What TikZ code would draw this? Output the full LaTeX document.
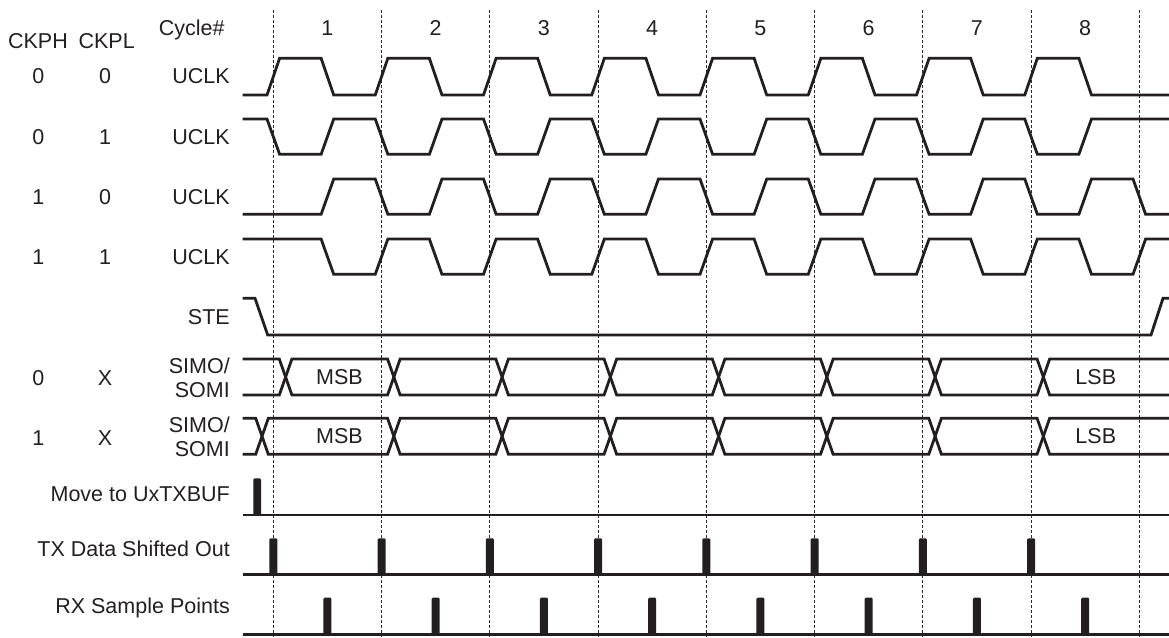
\documentclass[tikz,border=0pt]{standalone}
\usepackage{fontspec}
\setmainfont{Liberation Sans}
\usepackage{tikz}
\usetikzlibrary{calc}
\definecolor{spiink}{RGB}{35,31,32}
\definecolor{spigrid}{RGB}{45,41,42}
% timing grid: first cycle line, cycle length, edge half width, bus crossing half width
\newcommand{\gridx}{273.3}
\newcommand{\cyc}{108.25}
\newcommand{\slew}{6.3}
\newcommand{\xhalf}{6.3}
\tikzset{
  %% ---- text ----
  lbl/.style    = {font=\fontsize{21.5}{24}\selectfont, text=spiink, inner sep=0pt},
  siglbl/.style = {lbl, anchor=base east},
  numlbl/.style = {lbl, anchor=base},
  %% ---- lines ----
  wave/.style     = {draw=spiink, line width=2.8pt},
  gridline/.style = {draw=spigrid, line width=0.9pt, dash pattern=on 3pt off 2pt},
  pulse/.style    = {fill=spiink, rounded corners=1.2pt},
}
% clock row: #1 phase offset (0 or 0.5), #2 idle level, #3 active level
\newcommand{\uclkrow}[3]{%
  \draw[wave] (242.7,#2) \foreach \k in {0,...,7}{
    -- ({\gridx+(\k+#1)*\cyc-\slew},#2) -- ({\gridx+(\k+#1)*\cyc+\slew},#3)
    -- ({\gridx+(\k+#1+0.5)*\cyc-\slew},#3) -- ({\gridx+(\k+#1+0.5)*\cyc+\slew},#2)}
    -- (1169,#2);}
% one rail of a data bus: #1 start level, #2 other level, #3 first crossing
\newcommand{\busline}[3]{%
  \draw[wave] (242.7,#1) \foreach \k in {0,...,7}{
    -- ({\gridx+\k*\cyc+12.3+(\k==0)*(#3-\gridx-12.3)-\xhalf},{#1+(#2-#1)*mod(\k,2)})
    -- ({\gridx+\k*\cyc+12.3+(\k==0)*(#3-\gridx-12.3)+\xhalf},{#1+(#2-#1)*(1-mod(\k,2))})}
    -- (1169,#1);}

\begin{document}
\begin{tikzpicture}[x=1pt, y=-1pt]
\useasboundingbox (0,0) rectangle (1169,637);

% Cycle grid
\foreach \k in {0,...,8}
  \draw[gridline] ({\gridx+\k*\cyc},10) -- ({\gridx+\k*\cyc},637);
\node[numlbl] (cycle) at (191.7,35) {Cycle\#};
\foreach \k in {1,...,8}
  \node[numlbl] (cyc\k) at ({\gridx+(\k-0.5)*\cyc},35) {\k};

% Header and mode columns
\node[numlbl] (ckph) at (38,48.3)  {CKPH};
\node[numlbl] (ckpl) at (106.7,48.3) {CKPL};

\node[numlbl] (ph1) at (38.3,83.5) {0};  \node[numlbl] (pl1) at (105,83.5) {0};
\node[numlbl] (ph2) at (38.3,144)  {0};  \node[numlbl] (pl2) at (105,144)  {1};
\node[numlbl] (ph3) at (38.3,204)  {1};  \node[numlbl] (pl3) at (105,204)  {0};
\node[numlbl] (ph4) at (38.3,264.3){1};  \node[numlbl] (pl4) at (105,264.3){1};
\node[numlbl] (ph5) at (38.3,385)  {0};  \node[numlbl] (pl5) at (105,385)  {X};
\node[numlbl] (ph6) at (38.3,445)  {1};  \node[numlbl] (pl6) at (105,445)  {X};

% Signal names
\node[siglbl] (clk1) at (230,83.5)  {UCLK};
\node[siglbl] (clk2) at (230,144)   {UCLK};
\node[siglbl] (clk3) at (230,204)   {UCLK};
\node[siglbl] (clk4) at (230,264.3) {UCLK};
\node[siglbl] (ste)  at (230,324)   {STE};
\node[lbl, anchor=east, align=right] (bus1) at (230,377.5) {SIMO/\\SOMI};
\node[lbl, anchor=east, align=right] (bus2) at (230,437)   {SIMO/\\SOMI};
\node[siglbl] (txbuf) at (230,501.7) {Move to UxTXBUF};
\node[siglbl] (txout) at (230,556.7) {TX Data Shifted Out};
\node[siglbl] (rxsmp) at (230,613.3) {RX Sample Points};

% Clock rows
\uclkrow{0}{95}{58.3}
\uclkrow{0}{119}{154.3}
\uclkrow{0.5}{214.3}{179}
\uclkrow{0.5}{239}{274.3}

% STE
\draw[wave] (242.7,298.3) -- (255,298.3) -- (267.7,335) -- (1151,335)
  -- (1163,298.3) -- (1169,298.3);

% Data buses
\busline{359}{395}{285.6}
\busline{395}{359}{285.6}
\busline{418.3}{454.3}{262}
\busline{454.3}{418.3}{262}
\node[numlbl] (msb1) at (339.5,384)   {MSB};
\node[numlbl] (lsb1) at (1095.8,384)  {LSB};
\node[numlbl] (msb2) at (339.5,443.3) {MSB};
\node[numlbl] (lsb2) at (1095.8,443.3){LSB};

% Strobes
\draw[wave] (242.7,515) -- (1169,515);
\fill[pulse] (253.3,515) rectangle (261,478.3);
\draw[wave] (242.7,574.3) -- (1169,574.3);
\foreach \k in {0,...,7}
  \fill[pulse] ({\gridx+\k*\cyc-4},574.3) rectangle ({\gridx+\k*\cyc+4},538.3);
\draw[wave] (242.7,634.3) -- (1169,634.3);
\foreach \k in {0,...,7}
  \fill[pulse] ({\gridx+(\k+0.5)*\cyc-4},634.3) rectangle ({\gridx+(\k+0.5)*\cyc+4},597.7);

\end{tikzpicture}
\end{document}
